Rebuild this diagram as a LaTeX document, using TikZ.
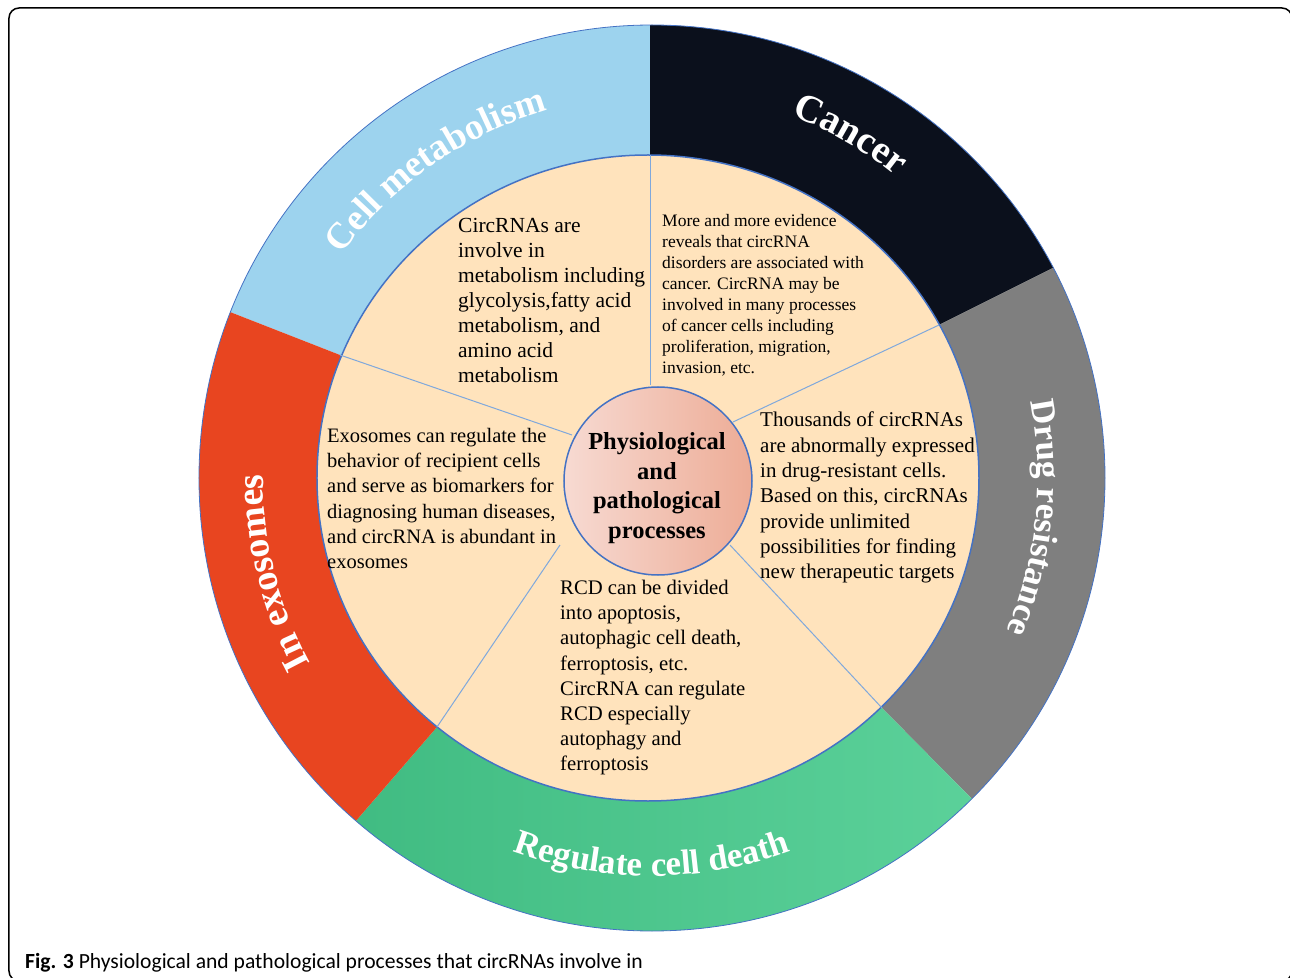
\documentclass[tikz,border=0pt]{standalone}
\usepackage{fontspec}
\setmainfont{Liberation Serif}
\newfontfamily\capfont{Carlito}
\usetikzlibrary{decorations.text}

\definecolor{metablue}{HTML}{9DD3EE}
\definecolor{cancerblack}{HTML}{0B101C}
\definecolor{druggray}{HTML}{7F7F7F}
\definecolor{deathgreenL}{HTML}{3DB97F}
\definecolor{deathgreenR}{HTML}{5FD49D}
\definecolor{exored}{HTML}{E84520}
\definecolor{peach}{HTML}{FFE3BC}
\definecolor{coreL}{HTML}{F7DAD2}
\definecolor{coreR}{HTML}{EDAC96}
\definecolor{rimblue}{HTML}{4472C4}
\definecolor{spokeblue}{HTML}{7FA8DC}

\begin{document}
\begin{tikzpicture}[x=1pt, y=1pt,
  ringtext/.style={decorate, decoration={text along path, text align=center, text color=white}},
  bodytext/.style={anchor=north west, inner sep=0pt, align=left},
  spoke/.style={spokeblue, line width=1pt}]

\useasboundingbox (-652,-499) rectangle (638,478);

% Frame round the figure (cut off at right and bottom)
\draw[line width=1.5pt, rounded corners=10pt] (-643,470) rectangle (640,-503);

% Points on the core, the inner ring and outside the wheel
\coordinate (c1) at (-2,93);
\coordinate (c2) at (81,56);
\coordinate (c3) at (78,-67);
\coordinate (c4) at (-92,-67);
\coordinate (c5) at (-80,43);
\coordinate (r1) at (-2,323);
\coordinate (r2) at (287,153);
\coordinate (r3) at (230,-230);
\coordinate (r4) at (-215,-249);
\coordinate (r5) at (-312,123);
\coordinate (f1) at (-2,583);
\coordinate (f2) at (515,267);
\coordinate (f3) at (412,-414);
\coordinate (f4) at (-379,-439);
\coordinate (f5) at (-532,209);

% Draw the outer segments
\begin{scope}
\clip (0,0) circle (453);
\fill[metablue] (0,0) -- (r5) -- (f5) -- (124:900) -- (f1) -- (r1) -- cycle;
\fill[cancerblack] (0,0) -- (r1) -- (f1) -- (58:900) -- (f2) -- (r2) -- cycle;
\fill[druggray] (0,0) -- (r2) -- (f2) -- (-9:900) -- (f3) -- (r3) -- cycle;
\shade[left color=deathgreenL, right color=deathgreenR] (0,0) -- (r3) -- (f3) -- (-88:900) -- (f4) -- (r4) -- cycle;
\fill[exored] (0,0) -- (r4) -- (f4) -- (194:900) -- (f5) -- (r5) -- cycle;
\end{scope}
\draw[rimblue, line width=0.8pt] (0,0) circle (453);

% Inner ring
\draw[rimblue, line width=1.5pt, fill=peach] (-4,0) ellipse [x radius=331, y radius=323];

% Spokes
\draw[spoke] (c1) -- (r1);
\draw[spoke] (c2) -- (r2);
\draw[spoke] (c3) -- (r3);
\draw[spoke] (c4) -- (r4);
\draw[spoke] (c5) -- (r5);

% Core
\node[circle, minimum size=188pt, inner sep=0pt, draw=rimblue, line width=1.5pt,
  left color=coreL, right color=coreR] (core) at (6,-3) {};
\node[align=center, inner sep=0pt, font=\bfseries\fontsize{24.5}{29.7}\selectfont] (coretext) at (5,-10)
  {Physiological\\and\\pathological\\processes};

% Ring labels
\path[ringtext, decoration={text={|\fontsize{37}{37}\selectfont\bfseries|Cell metabolism}}]
  (165:382) arc[start angle=165, end angle=85, radius=382];
\path[ringtext, decoration={text={|\fontsize{39}{39}\selectfont\bfseries|Cancer}}]
  (100:388) arc[start angle=100, end angle=20, radius=388];
\path[ringtext, decoration={text={|\fontsize{35}{35}\selectfont\bfseries|Drug resistance}}]
  (34:386) arc[start angle=34, end angle=-46, radius=386];
\path[ringtext, decoration={text={|\fontsize{38}{38}\selectfont\bfseries|In exosomes}}]
  (234:389) arc[start angle=234, end angle=154, radius=389];
\path[ringtext, decoration={text={|\fontsize{35}{35}\selectfont\bfseries|Regulate cell death}}]
  (-135:398) arc[start angle=-135, end angle=-45, radius=398];

% Texts in the sectors
\node[bodytext, font=\fontsize{21.5}{25}\selectfont] (metatext) at (-194,260)
  {CircRNAs are\\involve in\\metabolism including\\glycolysis,fatty acid\\metabolism, and\\amino acid\\metabolism};
\node[bodytext, font=\fontsize{17.5}{21}\selectfont] (cancertext) at (10,264)
  {More and more evidence\\reveals that circRNA\\disorders are associated with\\cancer. CircRNA may be\\involved in many processes\\of cancer cells including\\proliferation, migration,\\invasion, etc.};
\node[bodytext, font=\fontsize{21}{25.3}\selectfont] (drugtext) at (108,66)
  {Thousands of circRNAs\\are abnormally expressed\\in drug-resistant cells.\\Based on this, circRNAs\\provide unlimited\\possibilities for finding\\new therapeutic targets};
\node[bodytext, font=\fontsize{20.5}{25.2}\selectfont] (exotext) at (-325,50)
  {Exosomes can regulate the\\behavior of recipient cells\\and serve as biomarkers for\\diagnosing human diseases,\\and circRNA is abundant in\\exosomes};
\node[bodytext, font=\fontsize{20.7}{25.2}\selectfont] (deathtext) at (-92,-102)
  {RCD can be divided\\into apoptosis,\\autophagic cell death,\\ferroptosis, etc.\\CircRNA can regulate\\RCD especially\\autophagy and\\ferroptosis};

% Caption
\node[anchor=base west, inner sep=0pt, font=\capfont\fontsize{21.6}{21.6}\selectfont] (caption) at (-627,-490)
  {\textbf{Fig. 3} Physiological and pathological processes that circRNAs involve in};
\end{tikzpicture}
\end{document}
